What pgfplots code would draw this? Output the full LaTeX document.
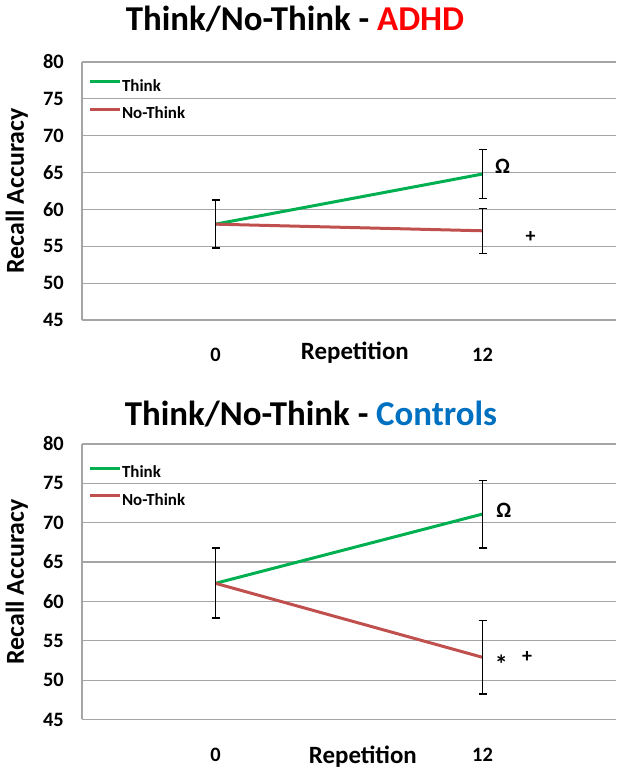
\documentclass[border=0pt]{standalone}
\usepackage{fontspec}
\setmainfont{Carlito}
\usepackage{pgfplots}
\pgfplotsset{compat=1.18}

\definecolor{thinkgreen}{RGB}{0,176,80}
\definecolor{nothinkred}{RGB}{192,80,77}
\definecolor{adhdred}{RGB}{255,0,0}
\definecolor{ctrlblue}{RGB}{0,112,192}
\definecolor{gridgray}{RGB}{165,165,165}

\pgfplotsset{
  recall/.style={
    scale only axis, width=534bp,
    xmin=-0.5, xmax=1.5, ymin=45, ymax=80,
    xtick={0,1}, xticklabels={0,12}, ytick={45,50,...,80},
    axis x line=bottom, axis y line=left,
    axis line style={gridgray, line width=1.2bp, -},
    ymajorgrids, grid style={gridgray, line width=1.2bp},
    major tick length=0pt,
    /pgf/number format/assume math mode=true,
    tick label style={font=\bfseries\fontsize{20.5}{24}\selectfont, inner sep=0pt},
    yticklabel style={anchor=east, xshift=-18bp},
    xticklabel style={anchor=north, yshift=-28bp},
    ylabel={Recall Accuracy},
    ylabel style={font=\bfseries\fontsize{26}{30}\selectfont, at={(axis description cs:-0.122,0.5)}, anchor=center},
    xlabel={Repetition},
    xlabel style={font=\bfseries\fontsize{25}{28}\selectfont, anchor=base},
    legend style={draw=none, fill=none, inner sep=0pt, row sep=12bp,
      font=\bfseries\fontsize{17}{20}\selectfont, anchor=north west,
      nodes={inner sep=1bp}},
    legend cell align=left,
    legend image code/.code={\draw[##1] (0bp,4.5bp) -- (30bp,4.5bp);},
    error bars/y dir=both, error bars/y explicit,
    error bars/error bar style={black, line width=1.2bp},
    error bars/error mark options={black, mark size=4bp, line width=1.2bp, rotate=90},
    every axis plot/.append style={line width=3bp, mark=none},
  }
}

\begin{document}
\begin{tikzpicture}[x=1bp, y=1bp]
\useasboundingbox (0,0) rectangle (628,777);

% titles
\node[anchor=base, font=\bfseries\fontsize{35}{40}\selectfont] at (295,746) {Think/No-Think - \textcolor{adhdred}{ADHD}};
\node[anchor=base, font=\bfseries\fontsize{35}{40}\selectfont] at (311,351) {Think/No-Think - \textcolor{ctrlblue}{Controls}};

% ADHD
\begin{axis}[recall, height=258bp, at={(82bp,457bp)}, anchor=south west,
    xlabel style={at={(axis description cs:0.511,-0.155)}},
    legend style={at={(axis description cs:0.011,0.936)}}]
  \addplot[thinkgreen] coordinates {(0,58.0) +- (0,3.2) (1,64.8) +- (0,3.35)};
  \addplot[nothinkred] coordinates {(0,58.0) +- (0,3.3) (1,57.1) +- (0,3.05)};
  \legend{Think, No-Think}
  \node[font=\bfseries\fontsize{22}{24}\selectfont] at (axis cs:1.075,65.8) {Ω};
  \node[font=\bfseries\fontsize{20}{22}\selectfont] at (axis cs:1.18,56.3) {+};
\end{axis}

% Controls
\begin{axis}[recall, height=275.5bp, at={(82bp,57.5bp)}, anchor=south west,
    xlabel style={at={(axis description cs:0.526,-0.16)}},
    legend style={at={(axis description cs:0.011,0.925)}}]
  \addplot[thinkgreen] coordinates {(0,62.3) +- (0,4.5) (1,71.1) +- (0,4.3)};
  \addplot[nothinkred] coordinates {(0,62.3) +- (0,4.4) (1,52.9) +- (0,4.65)};
  \legend{Think, No-Think}
  \node[font=\bfseries\fontsize{22}{24}\selectfont] at (axis cs:1.08,71.6) {Ω};
  \node[font=\bfseries\fontsize{26}{28}\selectfont] at (axis cs:1.07,52.0) {*};
  \node[font=\bfseries\fontsize{20}{22}\selectfont] at (axis cs:1.167,52.9) {+};
\end{axis}
\end{tikzpicture}
\end{document}
